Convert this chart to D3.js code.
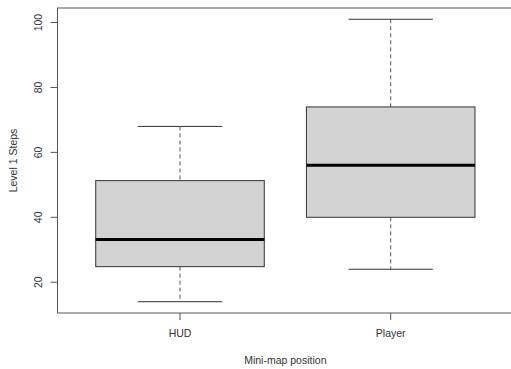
<!DOCTYPE html>
<html>
<head>
<meta charset="utf-8">
<script src="https://cdn.jsdelivr.net/npm/d3@7"></script>
<style>
    body { margin: 0; background: #fff; }
    text { font-family: "Liberation Sans", Arial, sans-serif; fill: #333; }
</style>
</head>
<body>
<svg id="chart" width="511" height="369"></svg>
<script>
// five-number summaries per group
let categories = ['HUD', 'Player'];
let whiskerLow = [14, 24];
let quartile1 = [24.8, 40];
let medians = [33.2, 56];
let quartile3 = [51.3, 74];
let whiskerHigh = [68, 101];
let yTicks = [20, 40, 60, 80, 100];

let svg = d3.select('#chart');

// R style: x from 0.42 to 2.58, y padded 4% on the data range
let x = d3.scaleLinear().domain([0.42, 2.58]).range([57.8, 512.9]);
let yMin = d3.min(whiskerLow), yMax = d3.max(whiskerHigh);
let pad = (yMax - yMin) * 0.04;
let y = d3.scaleLinear().domain([yMin - pad, yMax + pad]).range([313, 8]);

let boxes = categories.map((c, i) => ({
    name: c,
    pos: i + 1,
    lo: whiskerLow[i],
    q1: quartile1[i],
    med: medians[i],
    q3: quartile3[i],
    hi: whiskerHigh[i]
}));

let g = svg.append('g');

let box = g.selectAll('g.box')
    .data(boxes)
    .enter()
    .append('g')
    .attr('class', 'box');

// dashed whiskers
box.append('line')
    .attr('x1', d => x(d.pos)).attr('x2', d => x(d.pos))
    .attr('y1', d => y(d.hi)).attr('y2', d => y(d.q3))
    .attr('style', 'stroke: #555; stroke-width: 1; stroke-dasharray: 4,3');
box.append('line')
    .attr('x1', d => x(d.pos)).attr('x2', d => x(d.pos))
    .attr('y1', d => y(d.q1)).attr('y2', d => y(d.lo))
    .attr('style', 'stroke: #555; stroke-width: 1; stroke-dasharray: 4,3');

// caps
box.append('line')
    .attr('x1', d => x(d.pos - 0.2)).attr('x2', d => x(d.pos + 0.2))
    .attr('y1', d => y(d.hi)).attr('y2', d => y(d.hi))
    .attr('style', 'stroke: #333; stroke-width: 1');
box.append('line')
    .attr('x1', d => x(d.pos - 0.2)).attr('x2', d => x(d.pos + 0.2))
    .attr('y1', d => y(d.lo)).attr('y2', d => y(d.lo))
    .attr('style', 'stroke: #333; stroke-width: 1');

box.append('rect')
    .attr('x', d => x(d.pos - 0.4))
    .attr('width', d => x(d.pos + 0.4) - x(d.pos - 0.4))
    .attr('y', d => y(d.q3))
    .attr('height', d => y(d.q1) - y(d.q3))
    .attr('style', 'fill: #d3d3d3; stroke: #333; stroke-width: 1');

box.append('line')
    .attr('x1', d => x(d.pos - 0.4)).attr('x2', d => x(d.pos + 0.4))
    .attr('y1', d => y(d.med)).attr('y2', d => y(d.med))
    .attr('style', 'stroke: #000; stroke-width: 3');

// frame
svg.append('rect')
    .attr('x', 57.5).attr('y', 8)
    .attr('width', 455.5).attr('height', 305)
    .attr('style', 'fill: none; stroke: #555; stroke-width: 1');

// y axis
let yAxis = svg.append('g');
yAxis.append('line')
    .attr('x1', 57.5).attr('x2', 57.5)
    .attr('y1', y(yTicks[0])).attr('y2', y(yTicks[yTicks.length - 1]))
    .attr('style', 'stroke: #555');
yAxis.selectAll('line.tick')
    .data(yTicks)
    .enter()
    .append('line')
    .attr('class', 'tick')
    .attr('x1', 50.5).attr('x2', 57.5)
    .attr('y1', d => y(d)).attr('y2', d => y(d))
    .attr('style', 'stroke: #555');
yAxis.selectAll('text')
    .data(yTicks)
    .enter()
    .append('text')
    .attr('transform', d => 'translate(42,' + y(d) + ') rotate(-90)')
    .attr('text-anchor', 'middle')
    .style('font-size', '10.5px')
    .text(d => d);

// x axis
let xAxis = svg.append('g');
xAxis.selectAll('line')
    .data(boxes)
    .enter()
    .append('line')
    .attr('x1', d => x(d.pos)).attr('x2', d => x(d.pos))
    .attr('y1', 313).attr('y2', 320)
    .attr('style', 'stroke: #555');
xAxis.selectAll('text')
    .data(boxes)
    .enter()
    .append('text')
    .attr('x', d => x(d.pos))
    .attr('y', 337)
    .attr('text-anchor', 'middle')
    .style('font-size', '10.5px')
    .text(d => d.name);

// titles
svg.append('text')
    .attr('x', (57.8 + 512.9) / 2)
    .attr('y', 363.5)
    .attr('text-anchor', 'middle')
    .style('font-size', '10.5px')
    .text('Mini-map position');

svg.append('text')
    .attr('transform', 'translate(17,160.5) rotate(-90)')
    .attr('text-anchor', 'middle')
    .style('font-size', '10.5px')
    .text('Level 1 Steps');
</script>
</body>
</html>
